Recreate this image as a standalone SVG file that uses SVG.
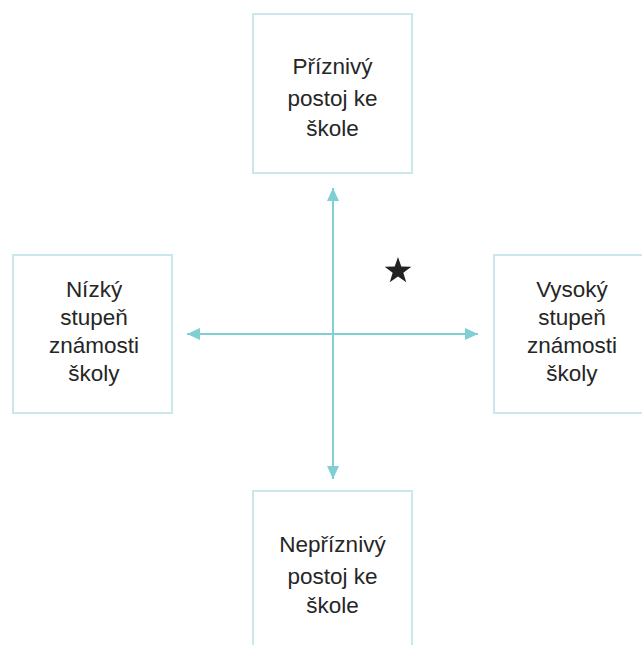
<svg xmlns="http://www.w3.org/2000/svg" width="642" height="645" viewBox="0 0 642 645">
  <style>
    .box { fill: #ffffff; stroke: #c9e8eb; stroke-width: 2; }
    .lbl { font-family: "Liberation Sans", Arial, sans-serif; font-size: 22.5px; fill: #262626; text-anchor: middle; }
    .axis { stroke: #7fcfd5; stroke-width: 2; fill: none; }
  </style>
  <defs>
    <marker id="tip" markerUnits="userSpaceOnUse" markerWidth="14" markerHeight="12" refX="13" refY="6" orient="auto-start-reverse">
      <path d="M0,0 L13,6 L0,12 Z" fill="#7fcfd5"/>
    </marker>
  </defs>

  <rect width="642" height="645" fill="#ffffff"/>

  <!-- axes -->
  <g id="connectors">
    <line class="axis" x1="333" y1="188" x2="333" y2="479" marker-start="url(#tip)" marker-end="url(#tip)"/>
    <line class="axis" x1="187" y1="334" x2="478" y2="334" marker-start="url(#tip)" marker-end="url(#tip)"/>
  </g>

  <g id="top">
    <rect class="box" x="253" y="14" width="159" height="159"/>
    <text class="lbl" x="332.5" y="74">Příznivý</text>
    <text class="lbl" x="332.5" y="106">postoj ke</text>
    <text class="lbl" x="332.5" y="136">škole</text>
  </g>

  <g id="left">
    <rect class="box" x="13" y="255" width="159" height="158"/>
    <text class="lbl" x="94" y="297">Nízký</text>
    <text class="lbl" x="94" y="325">stupeň</text>
    <text class="lbl" x="94" y="353">známosti</text>
    <text class="lbl" x="94" y="381">školy</text>
  </g>

  <g id="right">
    <rect class="box" x="494" y="255" width="160" height="158"/>
    <text class="lbl" x="572" y="297">Vysoký</text>
    <text class="lbl" x="572" y="325">stupeň</text>
    <text class="lbl" x="572" y="353">známosti</text>
    <text class="lbl" x="572" y="381">školy</text>
  </g>

  <g id="bottom">
    <rect class="box" x="253" y="491" width="159" height="170"/>
    <text class="lbl" x="332.5" y="552">Nepříznivý</text>
    <text class="lbl" x="332.5" y="584">postoj ke</text>
    <text class="lbl" x="332.5" y="613">škole</text>
  </g>

  <g id="marker-star" transform="translate(398,271)">
    <polygon fill="#222222" points="0,-14 3.29,-4.53 13.31,-4.33 5.33,1.73 8.23,11.33 0,5.6 -8.23,11.33 -5.33,1.73 -13.31,-4.33 -3.29,-4.53"/>
  </g>
</svg>
